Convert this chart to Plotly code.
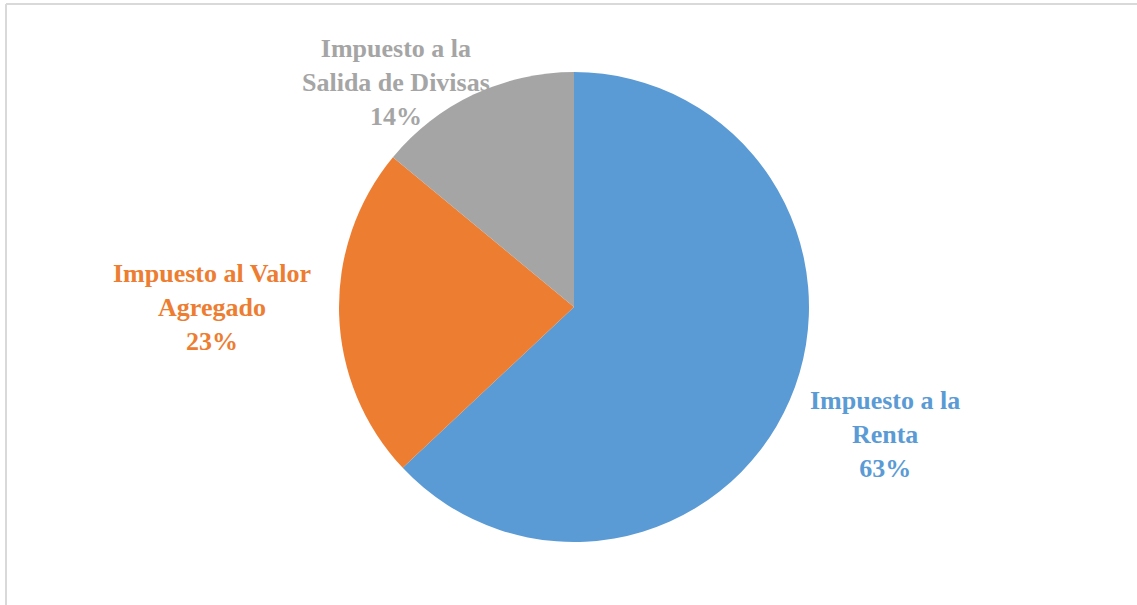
import plotly.graph_objects as go

# datos del gráfico
etiquetas = ["Impuesto a la Renta", "Impuesto al Valor Agregado", "Impuesto a la Salida de Divisas"]
textos = ["Impuesto a la<br>Renta", "Impuesto al Valor<br>Agregado", "Impuesto a la<br>Salida de Divisas"]
valores = [63, 23, 14]
colores = ["#5B9BD5", "#ED7D31", "#A5A5A5"]

W, H = 1137, 605
cx, cy, r = 574, 307, 235

fig = go.Figure(go.Pie(
    labels=etiquetas,
    values=valores,
    sort=False,
    direction="clockwise",
    rotation=0,
    textinfo="none",
    hoverinfo="label+percent",
    marker=dict(colors=colores, line=dict(width=0)),
    domain=dict(x=[(cx - r) / W, (cx + r) / W], y=[1 - (cy + r) / H, 1 - (cy - r) / H]),
    showlegend=False,
))

# posiciones de las etiquetas (px)
pos = [(885, 434), (212, 307), (396, 83)]
total = sum(valores)
for texto, v, c, (px_, py_) in zip(textos, valores, colores, pos):
    fig.add_annotation(
        x=px_ / W, y=1 - py_ / H, xref="paper", yref="paper",
        text=f"<b>{texto}<br>{round(100 * v / total)}%</b>",
        showarrow=False, xanchor="center", yanchor="middle", align="center",
        font=dict(family="serif", size=26, color=c),
    )

# marco del gráfico
fig.add_shape(type="line", xref="paper", yref="paper", x0=6 / W, x1=1, y0=1 - 4 / H, y1=1 - 4 / H,
              line=dict(color="#D9D9D9", width=2))
fig.add_shape(type="line", xref="paper", yref="paper", x0=6 / W, x1=6 / W, y0=0, y1=1 - 4 / H,
              line=dict(color="#D9D9D9", width=2))

fig.update_layout(
    width=W, height=H,
    margin=dict(l=0, r=0, t=0, b=0),
    paper_bgcolor="white",
    plot_bgcolor="white",
)
fig.write_html("out.html", config={"displayModeBar": False},
               post_script="document.body.style.margin='0px';")
